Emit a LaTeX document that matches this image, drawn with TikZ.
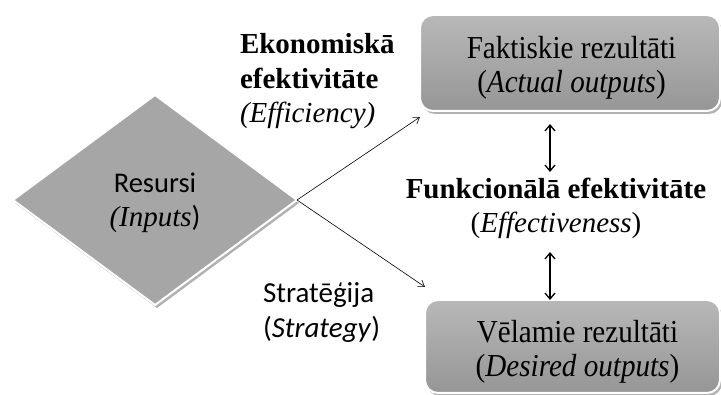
\documentclass[tikz,border=0pt]{standalone}
\usepackage{fontspec}
\setmainfont{Liberation Serif}
\newfontfamily\calibri{Carlito}
\newfontfamily\boxfont[FakeStretch=0.91]{Liberation Serif}
\usetikzlibrary{shapes.geometric,shadows,arrows.meta}
\definecolor{boxtop}{RGB}{184,184,184}
\definecolor{boxbot}{RGB}{150,150,150}
\definecolor{diafill}{RGB}{166,166,166}
\begin{document}
\begin{tikzpicture}[x=1pt,y=-1pt,
  every node/.style={inner sep=0pt, outer sep=0pt},
  bigtext/.style={font=\fontsize{29}{34.5}\selectfont, align=center, anchor=base},
  boxtext/.style={font=\fontsize{32}{34}\boxfont, align=center, anchor=base},
  resultbox/.style={rectangle, rounded corners=13pt, draw=white, line width=2pt,
    top color=boxtop, bottom color=boxbot,
    drop shadow={shadow xshift=2pt, shadow yshift=-3pt, fill=black, opacity=0.3}},
  inputshape/.style={diamond, draw=white, line width=2pt, fill=diafill,
    minimum width=284pt, minimum height=210pt,
    drop shadow={shadow xshift=2pt, shadow yshift=-3pt, fill=black, opacity=0.3}},
  thinarrow/.style={line width=0.6pt, -{Straight Barb[length=6pt,width=8pt]}},
  bothways/.style={line width=1.3pt, {Straight Barb[length=6pt,width=10pt]}-{Straight Barb[length=6pt,width=10pt]}}
]
\useasboundingbox (0,0) rectangle (721,395);

% shapes
\node[inputshape] (inputs) at (155,200) {};
\node[resultbox, minimum width=300pt, minimum height=96pt] (actual) at (570,63) {};
\node[resultbox, minimum width=295pt, minimum height=93pt] (desired) at (572.5,346.5) {};

% texts (base anchor sits on the last line)
\node[bigtext] (inputstxt) at (155,227) {{\calibri\fontsize{28.5}{34}\selectfont Resursi}\\\textit{(Inputs}{\calibri)}};
\node[boxtext] (actualtxt) at (571.5,93) {Faktiskie rezultāti\\(\textit{Actual outputs})};
\node[boxtext] (desiredtxt) at (577.5,377) {Vēlamie rezultāti\\(\textit{Desired outputs})};
\node[bigtext] (effect) at (556,233) {\textbf{Funkcionālā efektivitāte}\\(\textit{Effectiveness})};
\node[bigtext, align=left, anchor=base west] (effic) at (240,123) {\textbf{Ekonomiskā}\\\textbf{efektivitāte}\\\textit{(Efficiency)}};
\node[bigtext, align=left, anchor=base west, font=\fontsize{29}{35}\calibri] (strat) at (263,338) {Stratēģija\\(\textit{Strategy})};

% connectors
\coordinate (upend) at (420,117);
\coordinate (downend) at (425,287);
\draw[thinarrow] (inputs.east) -- (upend);
\draw[thinarrow] (inputs.east) -- (downend);
\coordinate (a1) at (550,124);
\coordinate (a2) at (550,172);
\coordinate (b1) at (550,252);
\draw[bothways] (a1) -- (a2);
\draw[bothways] (b1) -- (desired.north -| b1);
\end{tikzpicture}
\end{document}
